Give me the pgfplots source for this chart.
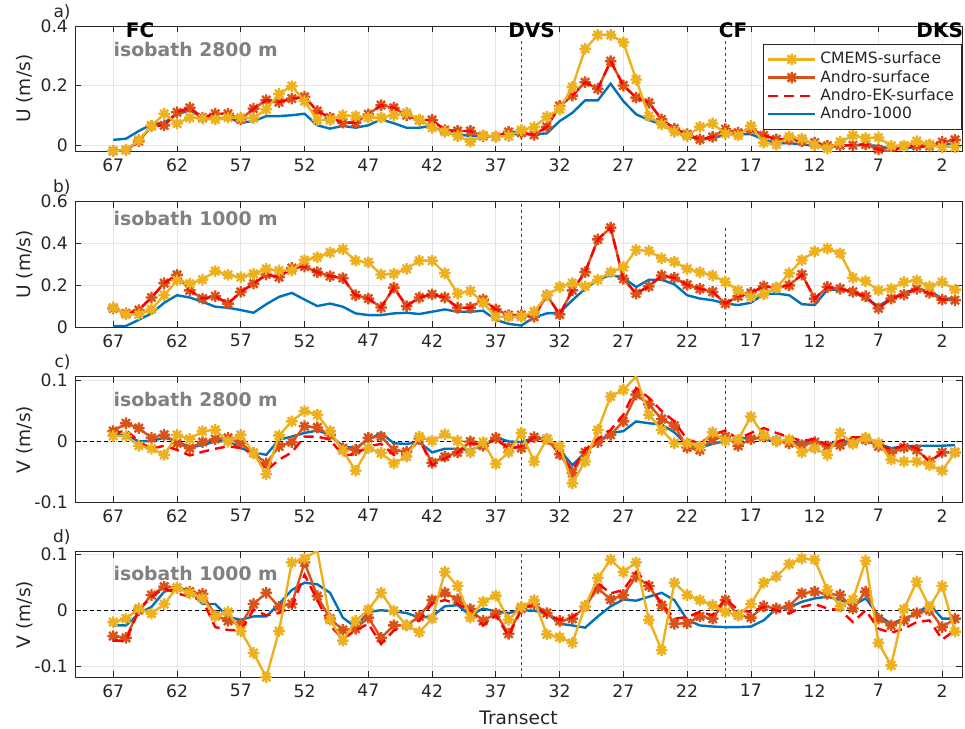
\documentclass[border=0pt]{standalone}
\usepackage{pgfplots}
\pgfplotsset{compat=1.18}
\usepackage{pgfplotstable}
\usepackage{fontspec}
\setmainfont{DejaVu Sans}

\definecolor{cmems}{rgb}{0.929,0.694,0.125}
\definecolor{andro}{rgb}{0.850,0.325,0.098}
\definecolor{aomil}{rgb}{0,0.447,0.741}
\definecolor{axgray}{rgb}{0.15,0.15,0.15}

% MATLAB-like '*' marker (+ and x together)
\pgfdeclareplotmark{mstar}{%
  \pgfpathmoveto{\pgfqpoint{-\pgfplotmarksize}{0pt}}\pgfpathlineto{\pgfqpoint{\pgfplotmarksize}{0pt}}%
  \pgfpathmoveto{\pgfqpoint{0pt}{-\pgfplotmarksize}}\pgfpathlineto{\pgfqpoint{0pt}{\pgfplotmarksize}}%
  \pgfpathmoveto{\pgfqpoint{-0.707\pgfplotmarksize}{-0.707\pgfplotmarksize}}\pgfpathlineto{\pgfqpoint{0.707\pgfplotmarksize}{0.707\pgfplotmarksize}}%
  \pgfpathmoveto{\pgfqpoint{-0.707\pgfplotmarksize}{0.707\pgfplotmarksize}}\pgfpathlineto{\pgfqpoint{0.707\pgfplotmarksize}{-0.707\pgfplotmarksize}}%
  \pgfusepathqstroke}

\tikzset{
  isob/.style={anchor=west, text=black!50, font=\bfseries\fontsize{9.4}{11}\selectfont, inner sep=0pt},
  site/.style={font=\bfseries\fontsize{10}{12}\selectfont, inner sep=0pt},
  plab/.style={anchor=base east, font=\fontsize{8.5}{9}\selectfont, inner sep=0pt, xshift=-2pt, yshift=4.5pt, text=axgray},
}

\pgfplotsset{
  panel/.style={
    width=443.5pt, height=62.75pt, scale only axis,
    anchor=north west, clip mode=individual,
    x dir=reverse, xmin=0.45, xmax=70,
    xtick={67,62,...,2},
    grid=major, major grid style={black!10, line width=0.4pt},
    tick align=inside, major tick length=3pt,
    axis line style={axgray, line width=0.4pt},
    tick style={axgray, line width=0.4pt},
    ticklabel style={font=\fontsize{8.6}{9}\selectfont, text=axgray},
    label style={font=\fontsize{9.3}{11}\selectfont, text=axgray},
    ylabel style={at={(rel axis cs:0,0.5)}, anchor=center, yshift=25pt},
    /pgf/number format/assume math mode=true,
  },
  cm/.style={cmems, line width=1.2pt, mark=mstar, mark size=2.9pt, mark options={solid, line width=1.2pt}},
  as/.style={andro, line width=1.2pt, mark=mstar, mark size=2.9pt, mark options={solid, line width=1.2pt}},
  ek/.style={red, line width=1.2pt, dash pattern=on 5pt off 3pt},
  ao/.style={aomil, line width=1.2pt},
  vline/.style={black!75, line width=0.5pt, dash pattern=on 1.5pt off 1.5pt, forget plot},
  zline/.style={black, line width=0.5pt, dash pattern=on 2pt off 1.5pt, forget plot},
}

% U, isobath 2800 m
\pgfplotstableread{
t cm as ao
67 -0.020 -0.020 0.017
66 -0.017 -0.017 0.021
65 0.017 0.013 0.047
64 0.064 0.064 0.069
63 0.105 0.066 0.075
62 0.072 0.110 0.103
61 0.092 0.125 0.117
60 0.089 0.092 0.092
59 0.086 0.105 0.086
58 0.092 0.105 0.092
57 0.092 0.086 0.075
56 0.090 0.122 0.080
55 0.120 0.151 0.097
54 0.172 0.144 0.097
53 0.198 0.156 0.100
52 0.147 0.162 0.105
51 0.084 0.114 0.066
50 0.084 0.092 0.055
49 0.100 0.075 0.064
48 0.097 0.075 0.058
47 0.092 0.103 0.066
46 0.092 0.134 0.086
45 0.100 0.125 0.073
44 0.108 0.100 0.058
43 0.084 0.084 0.058
42 0.058 0.084 0.064
41 0.044 0.050 0.041
40 0.030 0.047 0.036
39 0.011 0.047 0.030
38 0.032 0.030 0.030
37 0.028 0.028 0.030
36 0.030 0.044 0.036
35 0.050 0.041 0.036
34 0.060 0.034 0.036
33 0.095 0.061 0.039
32 0.120 0.131 0.080
31 0.195 0.166 0.108
30 0.323 0.211 0.150
29 0.370 0.189 0.150
28 0.370 0.282 0.206
27 0.345 0.200 0.147
26 0.220 0.159 0.103
25 0.097 0.142 0.084
24 0.069 0.086 0.069
23 0.044 0.055 0.044
22 0.030 0.036 0.028
21 0.061 0.019 0.021
20 0.072 0.027 0.021
19 0.038 0.053 0.036
18 0.032 0.041 0.036
17 0.064 0.053 0.036
16 0.008 0.032 0.019
15 0.001 0.019 0.006
14 0.028 0.019 0.006
13 0.021 0.013 0.002
12 0.000 0.008 -0.003
11 -0.012 -0.003 -0.007
10 0.010 -0.001 -0.003
9 0.032 -0.001 -0.001
8 0.023 0.002 -0.001
7 0.025 -0.015 -0.003
6 -0.003 -0.023 -0.015
5 -0.003 -0.003 -0.009
4 0.013 -0.003 -0.009
3 0.002 -0.003 -0.003
2 -0.007 0.010 0.000
1 -0.007 0.017 0.006
}\tUa

% U, isobath 1000 m
\pgfplotstableread{
t cm as ao
67 0.094 0.090 0.006
66 0.061 0.066 0.006
65 0.061 0.082 0.035
64 0.085 0.142 0.066
63 0.153 0.211 0.117
62 0.224 0.250 0.153
61 0.208 0.176 0.142
60 0.227 0.137 0.121
59 0.268 0.148 0.098
58 0.250 0.113 0.093
57 0.239 0.169 0.082
56 0.255 0.208 0.069
55 0.279 0.252 0.110
54 0.271 0.239 0.145
53 0.271 0.283 0.164
52 0.321 0.290 0.132
51 0.334 0.263 0.101
50 0.357 0.244 0.113
49 0.373 0.235 0.098
48 0.318 0.153 0.066
47 0.310 0.137 0.058
46 0.252 0.094 0.058
45 0.255 0.189 0.066
44 0.279 0.101 0.069
43 0.318 0.142 0.063
42 0.318 0.157 0.074
41 0.258 0.142 0.085
40 0.161 0.093 0.074
39 0.173 0.093 0.074
38 0.117 0.132 0.079
37 0.050 0.085 0.035
36 0.050 0.058 0.016
35 0.050 0.058 0.008
34 0.074 0.050 0.047
33 0.153 0.153 0.066
32 0.192 0.061 0.069
31 0.211 0.176 0.129
30 0.195 0.263 0.184
29 0.227 0.420 0.227
28 0.263 0.476 0.250
27 0.287 0.231 0.236
26 0.369 0.161 0.192
25 0.365 0.195 0.227
24 0.329 0.247 0.227
23 0.313 0.236 0.205
22 0.279 0.203 0.153
21 0.263 0.184 0.137
20 0.247 0.169 0.129
19 0.216 0.113 0.113
18 0.176 0.148 0.106
17 0.145 0.164 0.117
16 0.157 0.195 0.157
15 0.189 0.189 0.161
14 0.258 0.200 0.153
13 0.321 0.252 0.110
12 0.362 0.137 0.106
11 0.376 0.192 0.180
10 0.353 0.184 0.180
9 0.236 0.169 0.169
8 0.220 0.148 0.137
7 0.176 0.090 0.101
6 0.184 0.137 0.137
5 0.216 0.156 0.164
4 0.224 0.184 0.184
3 0.195 0.164 0.173
2 0.216 0.132 0.137
1 0.180 0.129 0.137
}\tUb

% V, isobath 2800 m
\pgfplotstableread{
t cm as ek ao
67 0.009 0.017 0.011 0.011
66 0.009 0.030 0.019 0.011
65 -0.007 0.022 0.000 0.000
64 -0.012 0.006 -0.012 0.001
63 -0.022 0.011 -0.007 0.006
62 0.011 -0.003 -0.014 0.001
61 0.004 -0.011 -0.023 -0.010
60 0.017 -0.001 -0.017 -0.006
59 0.019 0.004 -0.012 0.000
58 0.000 0.006 -0.008 0.001
57 0.011 -0.003 -0.011 -0.011
56 -0.019 -0.019 -0.021 -0.018
55 -0.054 -0.036 -0.048 -0.022
54 0.010 -0.008 -0.030 0.003
53 0.033 -0.001 -0.018 0.008
52 0.050 0.025 0.008 0.014
51 0.044 0.023 0.008 0.018
50 0.017 0.011 0.003 0.011
49 -0.015 -0.011 -0.023 -0.008
48 -0.048 -0.014 -0.021 -0.011
47 -0.011 0.006 -0.008 0.003
46 -0.019 0.008 -0.004 0.014
45 -0.036 -0.014 -0.022 -0.003
44 -0.025 -0.017 -0.021 -0.004
43 0.008 0.004 0.003 -0.001
42 0.001 -0.035 -0.039 -0.018
41 0.012 -0.025 -0.028 -0.012
40 0.001 -0.018 -0.018 -0.012
39 -0.018 0.000 -0.003 -0.014
38 -0.001 -0.007 -0.006 -0.007
37 -0.037 0.006 0.003 0.007
36 -0.018 -0.010 -0.011 0.000
35 0.014 -0.011 -0.008 -0.001
34 -0.033 0.007 0.007 0.006
33 0.004 0.004 0.001 0.003
32 -0.008 -0.021 -0.019 -0.014
31 -0.069 -0.052 -0.047 -0.039
30 -0.033 -0.018 -0.014 -0.018
29 0.019 -0.001 0.004 -0.001
28 0.074 0.011 0.019 0.014
27 0.085 0.033 0.044 0.017
26 0.107 0.077 0.088 0.033
25 0.044 0.061 0.072 0.030
24 0.019 0.037 0.050 0.028
23 -0.003 0.026 0.033 0.015
22 -0.003 -0.010 0.003 -0.006
21 -0.008 -0.014 -0.003 -0.010
20 0.015 0.004 0.011 -0.004
19 0.001 0.008 0.018 0.001
18 0.003 -0.007 0.004 0.004
17 0.041 0.004 0.014 0.007
16 0.010 0.008 0.022 0.004
15 0.000 0.001 0.014 0.000
14 0.003 -0.003 0.007 -0.001
13 -0.018 -0.006 0.001 -0.001
12 -0.011 -0.001 0.004 0.001
11 -0.022 -0.008 -0.006 -0.004
10 0.014 -0.006 0.001 -0.001
9 -0.004 -0.001 0.007 0.001
8 0.006 0.003 0.007 0.001
7 -0.003 -0.008 -0.004 -0.004
6 -0.030 -0.019 -0.014 -0.011
5 -0.033 -0.010 -0.006 -0.008
4 -0.033 -0.014 -0.011 -0.007
3 -0.039 -0.033 -0.034 -0.007
2 -0.048 -0.018 -0.018 -0.007
1 -0.018 -0.018 -0.017 -0.006
}\tVc

% V, isobath 1000 m
\pgfplotstableread{
t cm as ek ao
67 -0.021 -0.046 -0.054 -0.027
66 -0.015 -0.049 -0.054 -0.027
65 0.003 0.000 0.000 -0.006
64 -0.006 0.027 0.024 0.006
63 0.011 0.042 0.039 0.033
62 0.040 0.040 0.030 0.039
61 0.030 0.033 0.024 0.036
60 0.021 0.029 0.018 0.011
59 -0.011 -0.009 -0.030 0.011
58 -0.003 -0.019 -0.035 -0.012
57 -0.037 -0.025 -0.036 -0.017
56 -0.076 0.011 0.001 -0.011
55 -0.119 0.031 -0.009 -0.011
54 -0.037 0.006 -0.005 0.011
53 0.085 0.011 0.006 0.036
52 0.092 0.085 0.063 0.049
51 0.106 0.025 0.018 0.046
50 -0.017 -0.015 -0.027 0.031
49 -0.054 -0.035 -0.051 -0.013
48 -0.019 -0.033 -0.036 -0.030
47 0.001 -0.013 -0.024 -0.003
46 0.031 -0.049 -0.060 0.000
45 -0.001 -0.027 -0.036 -0.002
44 -0.027 -0.027 -0.030 -0.005
43 -0.039 -0.011 -0.018 -0.013
42 -0.015 0.018 0.012 -0.011
41 0.068 0.031 0.018 0.007
40 0.043 0.019 0.011 0.009
39 -0.013 0.002 0.000 -0.009
38 0.015 -0.019 -0.027 0.003
37 0.026 -0.006 -0.009 -0.002
36 -0.017 -0.042 -0.046 -0.005
35 0.006 0.003 0.001 0.000
34 0.018 0.011 0.011 -0.001
33 -0.043 -0.005 -0.009 -0.005
32 -0.048 -0.019 -0.017 -0.024
31 -0.058 -0.015 -0.013 -0.027
30 0.007 0.007 0.009 -0.031
29 0.057 0.039 0.048 -0.011
28 0.090 0.019 0.030 0.007
27 0.068 0.027 0.036 0.019
26 0.085 0.060 0.068 0.017
25 -0.017 0.043 0.045 0.024
24 -0.071 0.009 0.012 0.031
23 0.049 -0.024 -0.015 0.018
22 0.027 -0.023 -0.012 -0.017
21 0.018 -0.011 -0.003 -0.027
20 0.009 -0.015 -0.009 -0.029
19 -0.003 0.018 0.021 -0.030
18 -0.009 -0.009 0.000 -0.030
17 0.011 -0.013 -0.003 -0.029
16 0.049 0.007 0.006 -0.018
15 0.060 0.003 0.000 0.003
14 0.082 0.007 -0.006 0.005
13 0.092 0.030 0.006 0.015
12 0.090 0.033 0.011 0.021
11 0.036 0.029 0.003 0.024
10 0.007 0.027 0.000 0.018
9 0.019 0.003 -0.021 0.009
8 0.088 0.033 0.000 0.021
7 -0.058 -0.015 -0.033 -0.009
6 -0.098 -0.027 -0.040 -0.024
5 0.002 -0.018 -0.033 -0.015
4 0.051 -0.005 -0.021 -0.006
3 0.006 0.000 -0.018 0.011
2 0.043 -0.030 -0.052 -0.015
1 -0.038 -0.015 -0.036 -0.015
}\tVd

\begin{document}
\begin{tikzpicture}
\useasboundingbox (-37.5pt,13pt) rectangle (445pt,-351.5pt);

% a) U at 2800 m
\begin{axis}[panel, at={(0pt,0pt)},
  ymin=-0.022, ymax=0.4, ytick={0,0.2,0.4}, yticklabels={0,0.2,0.4},
  ylabel={U (m/s)},
  legend style={at={(rel axis cs:1,0.857)}, anchor=north east,
    font=\fontsize{7.8}{9}\selectfont, text=axgray, draw=axgray, line width=0.4pt,
    fill=white, cells={anchor=west}, row sep=-2.3pt, inner sep=1.8pt},
  legend image code/.code={\draw[mark repeat=2,mark phase=2] plot coordinates {(0cm,0cm)(0.41cm,0cm)(0.82cm,0cm)};},
]
\addlegendimage{cm}\addlegendentry{CMEMS-surface}
\addlegendimage{as}\addlegendentry{Andro-surface}
\addlegendimage{ek}\addlegendentry{Andro-EK-surface}
\addlegendimage{ao}\addlegendentry{Andro-1000}
\addplot[vline] coordinates {(35,-0.022) (35,0.355)};
\addplot[vline] coordinates {(19,-0.022) (19,0.355)};
\addplot[ao, forget plot] table[x=t, y=ao] {\tUa};
\addplot[as, forget plot] table[x=t, y=as] {\tUa};
\addplot[ek, forget plot] table[x=t, y=as] {\tUa};
\addplot[cm, forget plot] table[x=t, y=cm] {\tUa};
\node[site] at (axis cs:64.9,0.387) {FC};
\node[site] at (axis cs:34.2,0.387) {DVS};
\node[site] at (axis cs:18.4,0.387) {CF};
\node[site] at (axis cs:2.2,0.387) {DKS};
\node[isob] at (axis cs:67,0.322) {isobath 2800 m};
\node[plab] at (rel axis cs:0,1) {a)};
\end{axis}

% b) U at 1000 m
\begin{axis}[panel, at={(0pt,-87.85pt)},
  ymin=0, ymax=0.6, ytick={0,0.2,0.4,0.6}, yticklabels={0,0.2,0.4,0.6},
  ylabel={U (m/s)},
]
\addplot[vline] coordinates {(35,0) (35,0.6)};
\addplot[vline] coordinates {(19,0) (19,0.476)};
\addplot[ao] table[x=t, y=ao] {\tUb};
\addplot[as] table[x=t, y=as] {\tUb};
\addplot[ek] table[x=t, y=as] {\tUb};
\addplot[cm] table[x=t, y=cm] {\tUb};
\node[isob] at (axis cs:67,0.518) {isobath 1000 m};
\node[plab] at (rel axis cs:0,1) {b)};
\end{axis}

% c) V at 2800 m
\begin{axis}[panel, at={(0pt,-175.35pt)},
  ymin=-0.1, ymax=0.1066, ytick={-0.1,0,0.1}, yticklabels={-0.1,0,0.1},
  ylabel={V (m/s)},
]
\addplot[zline] coordinates {(0.45,0) (70,0)};
\addplot[vline] coordinates {(35,-0.1) (35,0.1066)};
\addplot[vline] coordinates {(19,-0.1) (19,0.1066)};
\addplot[ao] table[x=t, y=ao] {\tVc};
\addplot[as] table[x=t, y=as] {\tVc};
\addplot[ek] table[x=t, y=ek] {\tVc};
\addplot[cm] table[x=t, y=cm] {\tVc};
\node[isob] at (axis cs:67,0.069) {isobath 2800 m};
\node[plab] at (rel axis cs:0,1) {c)};
\end{axis}

% d) V at 1000 m
\begin{axis}[panel, at={(0pt,-262.85pt)},
  ymin=-0.119, ymax=0.104, ytick={-0.1,0,0.1}, yticklabels={-0.1,0,0.1},
  ylabel={V (m/s)}, xlabel={Transect},
]
\addplot[zline] coordinates {(0.45,0) (70,0)};
\addplot[vline] coordinates {(35,-0.119) (35,0.104)};
\addplot[vline] coordinates {(19,-0.119) (19,0.104)};
\addplot[ao] table[x=t, y=ao] {\tVd};
\addplot[as] table[x=t, y=as] {\tVd};
\addplot[ek] table[x=t, y=ek] {\tVd};
\addplot[cm] table[x=t, y=cm] {\tVd};
\node[isob] at (axis cs:67,0.066) {isobath 1000 m};
\node[plab] at (rel axis cs:0,1) {d)};
\end{axis}
\end{tikzpicture}
\end{document}
